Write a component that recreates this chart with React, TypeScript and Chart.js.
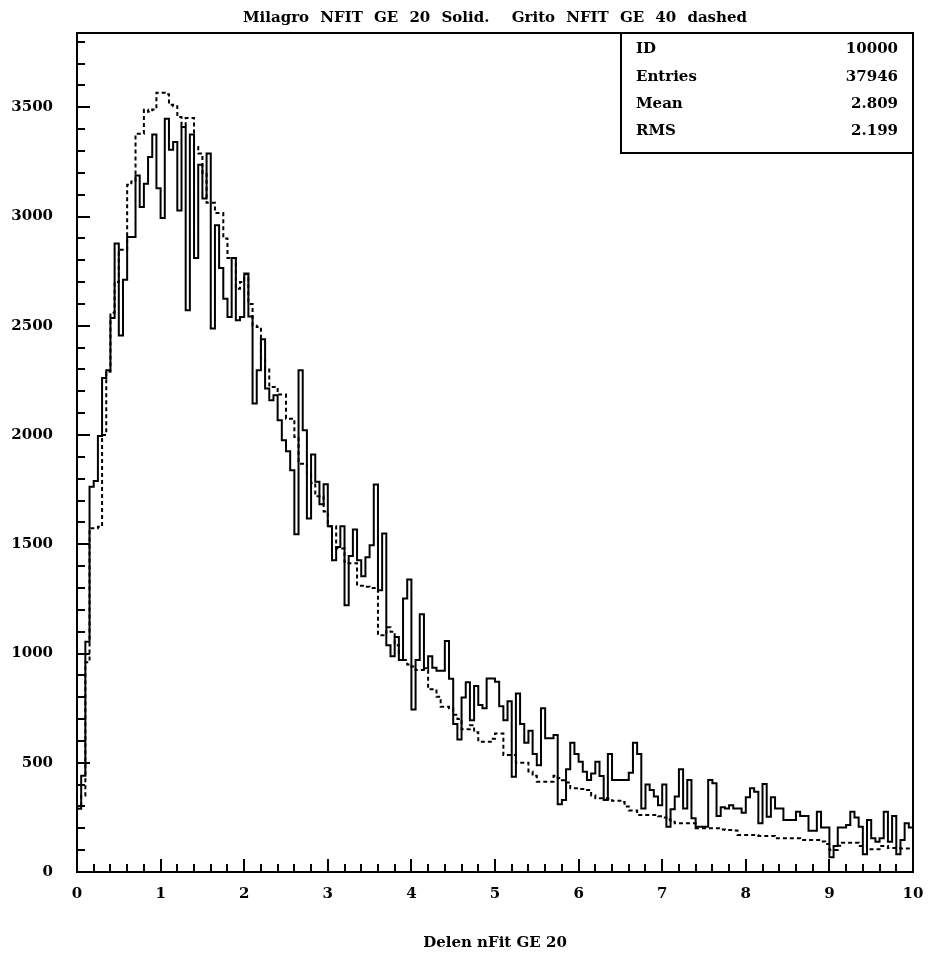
import React, { useEffect, useRef } from 'react';
import { Chart, registerables } from 'chart.js';

Chart.register(...registerables);

// ---------- data ----------
const BIN_WIDTH = 0.05;
const X_MIN = 0;
const X_MAX = 10;
const Y_MIN = 0;
const Y_MAX = 3840;
const X_TICK_VALUES = [0, 1, 2, 3, 4, 5, 6, 7, 8, 9, 10];
const Y_TICK_VALUES = [0, 500, 1000, 1500, 2000, 2500, 3000, 3500];
const X_MINOR_STEP = 0.2;
const Y_MINOR_STEP = 100;

const TITLE = 'Milagro NFIT GE 20 Solid.  Grito NFIT GE 40 dashed';
const X_TITLE = 'Delen nFit GE 20';

const STATS_LABELS = ['ID', 'Entries', 'Mean', 'RMS'];
const STATS_VALUES = ['10000', '37946', '2.809', '2.199'];

// Solid histogram (Milagro NFIT GE 20), 200 bins of 0.05
const SOLID = [
  290, 440, 1054, 1763, 1789, 1996, 2261, 2296, 2536, 2876,
  2456, 2711, 2906, 2906, 3188, 3044, 3150, 3272, 3376, 3130,
  2993, 3448, 3306, 3341, 3028, 3410, 2571, 3375, 2810, 3237,
  3082, 3288, 2487, 2960, 2765, 2624, 2540, 2810, 2525, 2540,
  2739, 2543, 2144, 2296, 2438, 2213, 2159, 2182, 2068, 1976,
  1926, 1839, 1546, 2296, 2022, 1618, 1911, 1786, 1683, 1775,
  1583, 1427, 1488, 1583, 1221, 1446, 1568, 1427, 1354, 1441,
  1496, 1773, 1290, 1549, 1038, 988, 1076, 970, 1252, 1339,
  744, 970, 1180, 932, 988, 935, 921, 921, 1057, 885,
  677, 607, 799, 868, 695, 851, 764, 749, 886, 886,
  871, 759, 695, 782, 436, 817, 677, 592, 647, 540,
  489, 749, 612, 612, 627, 310, 330, 470, 592, 540,
  505, 459, 421, 451, 505, 439, 330, 540, 421, 421,
  421, 421, 454, 592, 540, 291, 401, 375, 345, 306,
  401, 207, 287, 345, 470, 291, 421, 246, 207, 207,
  207, 421, 406, 256, 296, 291, 306, 291, 291, 271,
  342, 383, 367, 223, 403, 253, 342, 291, 291, 238,
  238, 238, 276, 256, 256, 189, 189, 276, 204, 204,
  67, 119, 204, 204, 215, 276, 250, 207, 81, 238,
  154, 139, 154, 276, 139, 256, 81, 146, 223, 204,
];

// Dashed histogram (Grito NFIT GE 40), 200 bins of 0.05
const DASHED = [
  300, 350, 960, 1573, 1573, 1580, 2000, 2290, 2560, 2700,
  2848, 2848, 3145, 3160, 3379, 3379, 3489, 3480, 3490, 3567,
  3567, 3560, 3512, 3505, 3455, 3417, 3451, 3451, 3318, 3288,
  3200, 3063, 3063, 3016, 3016, 2900, 2810, 2810, 2670, 2700,
  2736, 2600, 2500, 2494, 2350, 2300, 2220, 2220, 2185, 2185,
  2075, 2075, 1991, 1869, 1869, 1820, 1780, 1720, 1720, 1650,
  1583, 1583, 1481, 1481, 1420, 1413, 1413, 1310, 1310, 1305,
  1300, 1300, 1084, 1084, 1120, 1100, 1038, 1000, 970, 950,
  940, 924, 924, 924, 836, 836, 802, 756, 756, 749,
  720, 700, 653, 653, 672, 640, 596, 596, 596, 610,
  634, 634, 535, 535, 535, 500, 500, 500, 460, 440,
  413, 413, 413, 413, 440, 430, 420, 410, 383, 383,
  380, 380, 375, 350, 337, 337, 337, 335, 326, 326,
  320, 300, 281, 281, 261, 261, 261, 261, 261, 255,
  250, 240, 230, 223, 223, 223, 223, 223, 200, 200,
  200, 200, 200, 200, 195, 192, 192, 190, 169, 169,
  169, 169, 169, 165, 165, 165, 165, 154, 154, 154,
  154, 154, 154, 146, 146, 146, 146, 146, 140, 128,
  101, 101, 120, 134, 134, 134, 134, 119, 119, 104,
  104, 104, 119, 119, 110, 110, 110, 108, 108, 108,
];

// ---------- styling ----------
const FONT_FAMILY = '"DejaVu Serif", "Liberation Serif", serif';
const FONT = { family: FONT_FAMILY, weight: 'bold' as const, size: 15 };
const TITLE_WIDTH = 504;

function toSteps(values: number[]) {
  const pts: { x: number; y: number }[] = [{ x: X_MIN, y: 0 }];
  values.forEach((v, i) => pts.push({ x: X_MIN + i * BIN_WIDTH, y: v }));
  pts.push({ x: X_MIN + values.length * BIN_WIDTH, y: values[values.length - 1] });
  return pts;
}

const rootFramePlugin = {
  id: 'rootFrame',
  afterDatasetsDraw(chart: any) {
    const { ctx, chartArea: a, scales } = chart;
    const xs = scales.x;
    const ys = scales.y;
    ctx.save();
    ctx.strokeStyle = '#000';
    ctx.lineWidth = 2;
    ctx.lineCap = 'butt';

    // y ticks (inside, on the left axis)
    const nY = Math.round((Y_MAX - Y_MIN) / Y_MINOR_STEP);
    for (let k = 0; k <= nY; k++) {
      const v = Y_MIN + k * Y_MINOR_STEP;
      const major = Y_TICK_VALUES.includes(v);
      const p = Math.round(ys.getPixelForValue(v));
      ctx.beginPath();
      ctx.moveTo(a.left, p);
      ctx.lineTo(a.left + (major ? 13 : 8), p);
      ctx.stroke();
    }
    // x ticks (inside, on the bottom axis)
    const nX = Math.round((X_MAX - X_MIN) / X_MINOR_STEP);
    for (let k = 0; k <= nX; k++) {
      const v = X_MIN + k * X_MINOR_STEP;
      const major = X_TICK_VALUES.some((t) => Math.abs(t - v) < 1e-6);
      const p = Math.round(xs.getPixelForValue(v));
      ctx.beginPath();
      ctx.moveTo(p, a.bottom);
      ctx.lineTo(p, a.bottom - (major ? 13 : 8));
      ctx.stroke();
    }

    // frame
    ctx.strokeRect(a.left, a.top, a.right - a.left, a.bottom - a.top);

    // stats box
    const bw = 292;
    const bh = 120;
    const bx = a.right - bw;
    const by = a.top;
    ctx.fillStyle = '#fff';
    ctx.fillRect(bx, by, bw, bh);
    ctx.strokeRect(bx, by, bw, bh);
    ctx.fillStyle = '#000';
    ctx.font = `bold 15px ${FONT_FAMILY}`;
    ctx.textBaseline = 'middle';
    STATS_LABELS.forEach((lab, i) => {
      const y = by + 16.5 + i * 27.3;
      ctx.textAlign = 'left';
      ctx.fillText(lab, bx + 15, y);
      ctx.textAlign = 'right';
      ctx.fillText(STATS_VALUES[i], a.right - 15, y);
    });

    // title, centred on the plot frame
    const parts = TITLE.split(' ');
    ctx.textAlign = 'left';
    const wordsW = parts.reduce((s, w) => s + ctx.measureText(w).width, 0);
    const gap = Math.max(4, (TITLE_WIDTH - wordsW) / (parts.length - 1));
    const total = wordsW + gap * (parts.length - 1);
    let x = (a.left + a.right) / 2 - total / 2;
    parts.forEach((w) => {
      ctx.fillText(w, x, 18.5);
      x += ctx.measureText(w).width + gap;
    });
    ctx.restore();
  },
};

export default function App() {
  const ref = useRef<HTMLCanvasElement>(null);
  useEffect(() => {
    document.body.style.margin = '0';
    const canvas = ref.current;
    if (!canvas) return;
    const chart = new Chart(canvas, {
      type: 'line',
      data: {
        datasets: [
          {
            label: 'Milagro NFIT GE 20',
            data: toSteps(SOLID),
            borderColor: '#000',
            borderWidth: 2,
            pointRadius: 0,
            stepped: true,
            fill: false,
            tension: 0,
          },
          {
            label: 'Grito NFIT GE 40',
            data: toSteps(DASHED),
            borderColor: '#000',
            borderWidth: 2,
            borderDash: [4, 3],
            pointRadius: 0,
            stepped: true,
            fill: false,
            tension: 0,
          },
        ],
      },
      options: {
        responsive: false,
        animation: false,
        devicePixelRatio: 1,
        layout: { padding: { top: 33, right: 16, left: 0, bottom: 0 } },
        plugins: {
          legend: { display: false },
          title: { display: false },
          tooltip: { enabled: false },
        },
        scales: {
          x: {
            type: 'linear',
            min: X_MIN,
            max: X_MAX,
            afterFit: (s: any) => {
              s.height = 86;
              s.paddingLeft = 0;
              s.paddingRight = 0;
            },
            afterBuildTicks: (s: any) => {
              s.ticks = X_TICK_VALUES.map((v) => ({ value: v }));
            },
            grid: { display: false, drawTicks: false },
            border: { display: false },
            ticks: {
              color: '#000',
              font: FONT,
              padding: 13,
              maxRotation: 0,
              autoSkip: false,
              callback: (v: any) => String(v),
            },
            title: {
              display: true,
              text: X_TITLE,
              color: '#000',
              font: FONT,
              padding: { top: 0, bottom: 6 },
            },
          },
          y: {
            type: 'linear',
            min: Y_MIN,
            max: Y_MAX,
            afterFit: (s: any) => {
              s.width = 77;
              s.paddingTop = 0;
              s.paddingBottom = 0;
            },
            afterBuildTicks: (s: any) => {
              s.ticks = Y_TICK_VALUES.map((v) => ({ value: v }));
            },
            grid: { display: false, drawTicks: false },
            border: { display: false },
            ticks: {
              color: '#000',
              font: FONT,
              padding: 24,
              callback: (v: any) => String(v),
            },
          },
        },
      },
      plugins: [rootFramePlugin],
    });
    return () => chart.destroy();
  }, []);
  return (
    <canvas
      ref={ref}
      width={929}
      height={958}
      style={{ display: 'block', width: 929, height: 958 }}
    />
  );
}
